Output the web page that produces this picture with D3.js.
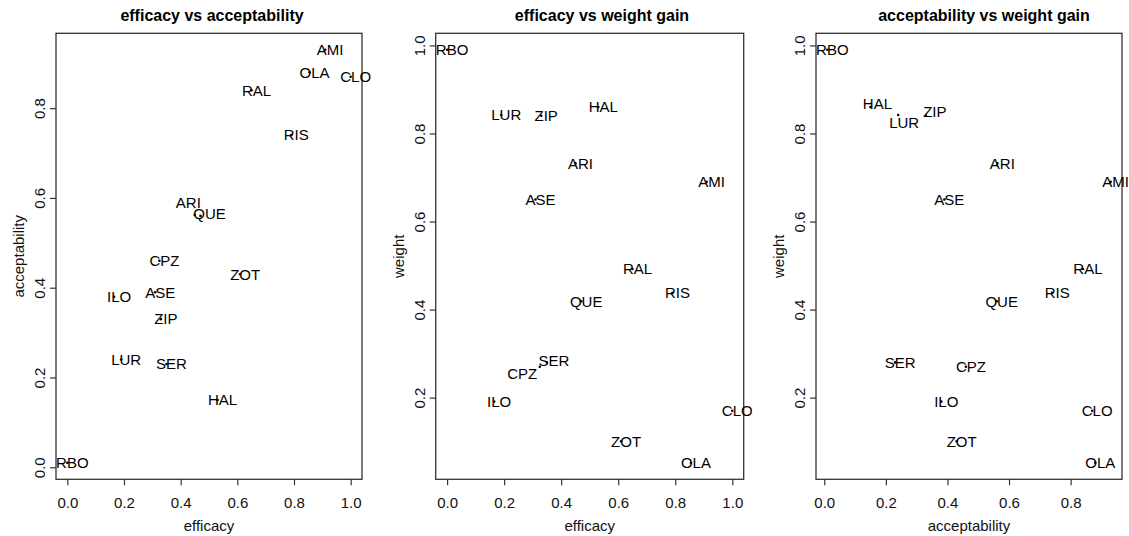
<!DOCTYPE html>
<html>
<head>
<meta charset="utf-8">
<script src="https://cdn.jsdelivr.net/npm/d3@7"></script>
<style>
  html, body { margin: 0; padding: 0; background: #fff; }
  svg { display: block; font-family: "Liberation Sans", Arial, Helvetica, sans-serif; }
</style>
</head>
<body>
<svg id="chart" width="1129" height="536"></svg>
<script>
// ---- data ----
const drugs         = ["RBO","AMI","OLA","CLO","RAL","RIS","ARI","QUE","CPZ","ZOT","ILO","ASE","ZIP","LUR","SER","HAL"];
const efficacy      = [0.00, 0.91, 0.855,1.00, 0.65, 0.79, 0.45, 0.47, 0.325,0.61, 0.165,0.31, 0.33, 0.19, 0.35, 0.53];
const acceptability = [0.01, 0.93, 0.88, 0.87, 0.84, 0.74, 0.562,0.56, 0.46, 0.43, 0.38, 0.39, 0.33, 0.24, 0.23, 0.15];
const weight        = [0.99, 0.69, 0.052,0.17, 0.492,0.438,0.732,0.419,0.27, 0.101,0.191,0.65, 0.84, 0.842,0.28, 0.86];

const effTicks = [0.0, 0.2, 0.4, 0.6, 0.8, 1.0];
const accTicksY = [0.0, 0.2, 0.4, 0.6, 0.8];
const accTicksX = [0.0, 0.2, 0.4, 0.6, 0.8];
const wTicks = [0.2, 0.4, 0.6, 0.8, 1.0];

const titles = ["efficacy vs acceptability", "efficacy vs weight gain", "acceptability vs weight gain"];

// ---- layout ----
const W = 1129, H = 536;
const plotTop = 33.3, plotBottom = 479.3;
const figW = W / 3;
const panels = [
  { x: efficacy, y: acceptability, xt: effTicks, yt: accTicksY, xl: "efficacy", yl: "acceptability",
    left: 56, right: 362, titleX: 212,
    nudge: { ARI: [-11.5, -12], QUE: [4, -2.5] } },
  { x: efficacy, y: weight, xt: effTicks, yt: wTicks, xl: "efficacy", yl: "weight",
    left: 435.7, right: 743.7, titleX: 602,
    nudge: { CPZ: [-22.6, 7], SER: [2, -2] } },
  { x: acceptability, y: weight, xt: accTicksX, yt: wTicks, xl: "acceptability", yl: "weight",
    left: 816, right: 1122, titleX: 984,
    nudge: { LUR: [1, 8], ZIP: [4, -4], HAL: [2, -3] } }
];

function padded(arr) {
  const [a, b] = d3.extent(arr);
  const r = b - a;
  return [a - 0.04 * r, b + 0.04 * r];
}

const svg = d3.select("#chart");
const defs = svg.append("defs");

panels.forEach((p, i) => {
  const g = svg.append("g");
  defs.append("clipPath").attr("id", "clip" + i)
    .append("rect").attr("x", i * figW).attr("y", 0).attr("width", figW).attr("height", H);

  const xs = d3.scaleLinear().domain(padded(p.x)).range([p.left, p.right]);
  const ys = d3.scaleLinear().domain(padded(p.y)).range([plotBottom, plotTop]);

  // title
  g.append("text").attr("x", p.titleX).attr("y", 20.7)
    .attr("text-anchor", "middle").attr("font-weight", "bold").attr("font-size", 16)
    .attr("fill", "#000").text(titles[i]);

  // x axis
  const xa = d3.axisBottom(xs).tickValues(p.xt).tickSize(6).tickPadding(12)
    .tickFormat(d3.format(".1f"));
  const gx = g.append("g").attr("transform", `translate(0,${plotBottom})`).call(xa);
  gx.select(".domain").remove();
  gx.selectAll("line").attr("stroke", "#333").attr("stroke-width", 1.2);
  gx.selectAll("text").attr("font-size", 15).attr("fill", "#111")
    .attr("font-family", "Liberation Sans, Arial, sans-serif");

  // y axis
  const ya = d3.axisLeft(ys).tickValues(p.yt).tickSize(6).tickFormat(d3.format(".1f"));
  const gy = g.append("g").attr("transform", `translate(${p.left},0)`).call(ya);
  gy.select(".domain").remove();
  gy.selectAll("line").attr("stroke", "#333").attr("stroke-width", 1.2);
  gy.selectAll("text")
    .attr("font-size", 15).attr("fill", "#111")
    .attr("font-family", "Liberation Sans, Arial, sans-serif")
    .attr("x", null).attr("dy", null)
    .attr("text-anchor", "middle")
    .attr("transform", "translate(-16,0) rotate(-90)")
    .attr("y", 5.3);

  // box
  g.append("rect").attr("x", p.left).attr("y", plotTop)
    .attr("width", p.right - p.left).attr("height", plotBottom - plotTop)
    .attr("fill", "none").attr("stroke", "#333").attr("stroke-width", 1.3);

  // axis titles
  g.append("text").attr("x", (p.left + p.right) / 2).attr("y", 530.5)
    .attr("text-anchor", "middle").attr("font-size", 15).attr("fill", "#111").text(p.xl);
  g.append("text")
    .attr("transform", `translate(${p.left - 37},${(plotTop + plotBottom) / 2}) rotate(-90)`)
    .attr("y", 5.3)
    .attr("text-anchor", "middle").attr("font-size", 15).attr("fill", "#111").text(p.yl);

  // points + labels
  const pts = g.append("g").attr("clip-path", `url(#clip${i})`);
  drugs.forEach((d, k) => {
    const cx = xs(p.x[k]), cy = ys(p.y[k]);
    pts.append("circle").attr("cx", cx).attr("cy", cy).attr("r", 1.3).attr("fill", "#000");
    const n = p.nudge[d] || [0, 0];
    pts.append("text").attr("x", cx + 5 + n[0]).attr("y", cy + 5.3 + n[1])
      .attr("text-anchor", "middle").attr("font-size", 15).attr("fill", "#000").text(d);
  });
});
</script>
</body>
</html>
